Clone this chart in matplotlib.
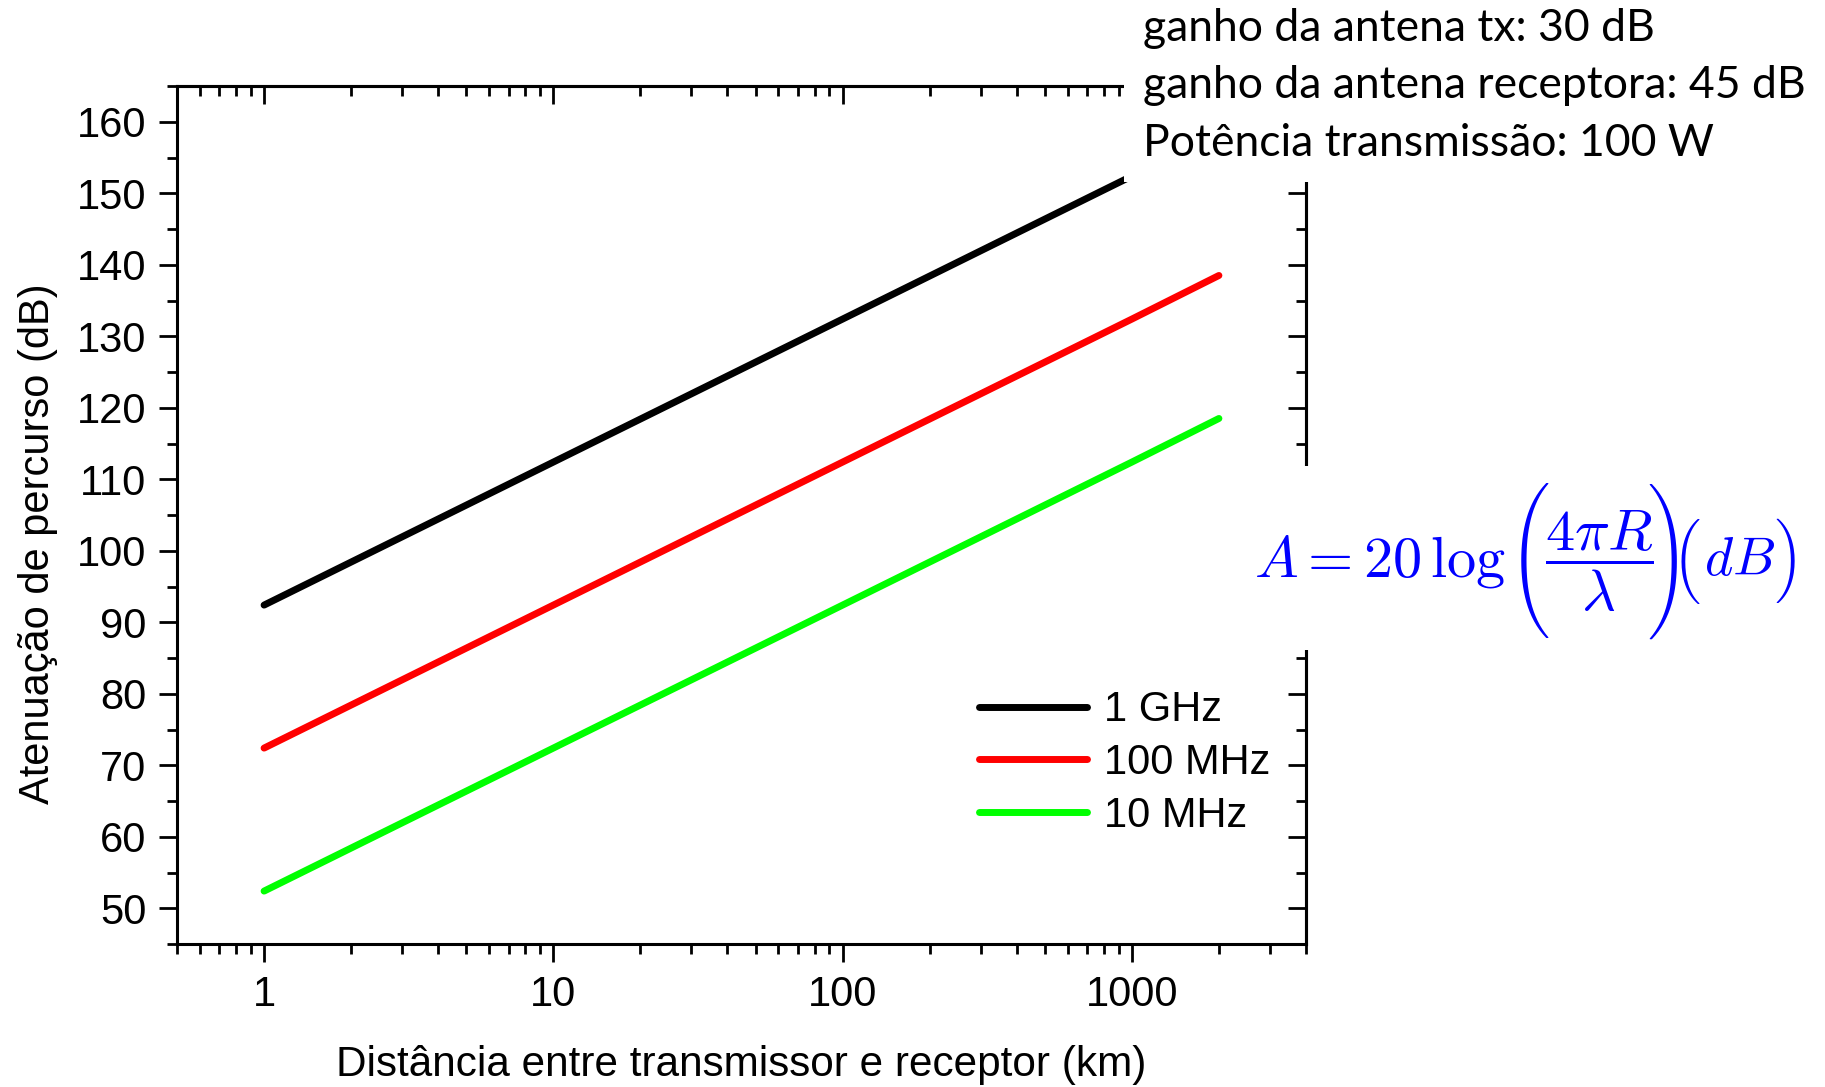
import matplotlib
matplotlib.use("Agg")
import matplotlib.pyplot as plt
from matplotlib.patches import Rectangle
from matplotlib.ticker import FixedLocator, LogLocator, MultipleLocator, NullFormatter, FuncFormatter

# distancia (km) e atenuacao (dB)
distancia = [1, 10, 100, 1000, 2000]
aten_1ghz = [92.4, 112.4, 132.4, 152.4, 158.5]
aten_100mhz = [72.4, 92.4, 112.4, 132.4, 138.5]
aten_10mhz = [52.4, 72.4, 92.4, 112.4, 118.5]
series = [aten_1ghz, aten_100mhz, aten_10mhz]
rotulos = ["1 GHz", "100 MHz", "10 MHz"]
cores = ["#000000", "#ff0000", "#00ff00"]

x_ticks = [1, 10, 100, 1000]
notas = ["ganho da antena tx: 30 dB",
         "ganho da antena receptora: 45 dB",
         "Potência transmissão: 100 W"]

plt.rcParams['font.family'] = ['Liberation Sans', 'DejaVu Sans']
plt.rcParams['mathtext.fontset'] = 'cm'

W, H = 1825, 1087
fig = plt.figure(figsize=(W / 100, H / 100), dpi=100)
ax = fig.add_axes([177 / W, 1 - 944 / H, (1306 - 177) / W, (944 - 86) / H])

for y, lab, c in zip(series, rotulos, cores):
    ax.plot(distancia, y, color=c, lw=5, solid_capstyle='round', label=lab)

ax.set_xscale('log')
ax.set_xlim(0.5, 4000)
ax.set_ylim(45, 165)

def setup_x(a):
    a.xaxis.set_major_locator(FixedLocator(x_ticks))
    a.xaxis.set_minor_locator(LogLocator(base=10, subs=range(2, 10), numticks=20))
    a.xaxis.set_minor_formatter(NullFormatter())

setup_x(ax)
ax.xaxis.set_major_formatter(FuncFormatter(lambda v, p: f"{v:g}"))
ax.yaxis.set_major_locator(MultipleLocator(10))
ax.yaxis.set_minor_locator(MultipleLocator(5))

ax.tick_params(which='both', direction='out', top=False, right=False,
               labelsize=30, width=2, pad=9)
ax.tick_params(which='major', length=13)
ax.tick_params(which='minor', length=7)
for s in ax.spines.values():
    s.set_linewidth(2.2)

top = ax.secondary_xaxis('top')
setup_x(top)
top.tick_params(which='both', direction='in', labeltop=False, width=2)
top.tick_params(which='major', length=13)
top.tick_params(which='minor', length=7)
top.spines['top'].set_linewidth(2.2)

right = ax.secondary_yaxis('right')
right.yaxis.set_major_locator(MultipleLocator(10))
right.yaxis.set_minor_locator(MultipleLocator(5))
right.tick_params(which='both', direction='in', labelright=False, width=2)
right.tick_params(which='major', length=13)
right.tick_params(which='minor', length=7)
right.spines['right'].set_linewidth(2.2)

ax.set_xlabel("Distância entre transmissor e receptor (km)", fontsize=30.4)
ax.set_ylabel("Atenuação de percurso (dB)", fontsize=30)
ax.xaxis.set_label_coords(0.5, -0.118)
ax.yaxis.set_label_coords(-0.105, 0.466)

ax.legend(loc='center left', bbox_to_anchor=(979 / W, 1 - 763 / H),
          bbox_transform=fig.transFigure, frameon=False, fontsize=30,
          handlelength=2.6, handletextpad=0.4, labelspacing=0.31,
          borderpad=0, borderaxespad=0)

# caixas brancas por tras dos textos
fig.add_artist(Rectangle((1124 / W, 1 - 182 / H), 1 - 1124 / W, 182 / H,
                         transform=fig.transFigure, fc='white', ec='none', zorder=5))
fig.add_artist(Rectangle((1250 / W, 1 - 650 / H), 1 - 1250 / W, (650 - 466) / H,
                         transform=fig.transFigure, fc='white', ec='none', zorder=5))

for txt, yb in zip(notas, [41, 98.5, 156]):
    fig.text(1143 / W, 1 - yb / H, txt, fontsize=32, family=['Lato', 'DejaVu Sans'],
             ha='left', va='baseline', zorder=6)

# formula em pedacos: parenteses grandes vindos da cmex10
azul = '#0000ff'
pedacos = [(r'$A = 20\,\log$', {'fontsize': 42}, 1254, 'left'),
           ('\xc3', {'fontsize': 37.5, 'family': 'cmex10'}, 1529, 'center'),
           (r'$\dfrac{4\pi R}{\lambda}$', {'fontsize': 42}, 1599, 'center'),
           ('!', {'fontsize': 37.5, 'family': 'cmex10'}, 1668, 'center'),
           ('\xb3', {'fontsize': 34, 'family': 'cmex10'}, 1687, 'center'),
           (r'$dB$', {'fontsize': 39}, 1740, 'center'),
           ('\xb4', {'fontsize': 34, 'family': 'cmex10'}, 1788, 'center')]
for s, props, xp, ha in pedacos:
    fig.text(xp / W, 1 - 561 / H, s, color=azul, ha=ha, va='center',
             zorder=6, **props)

fig.savefig("out.png", dpi=100)
